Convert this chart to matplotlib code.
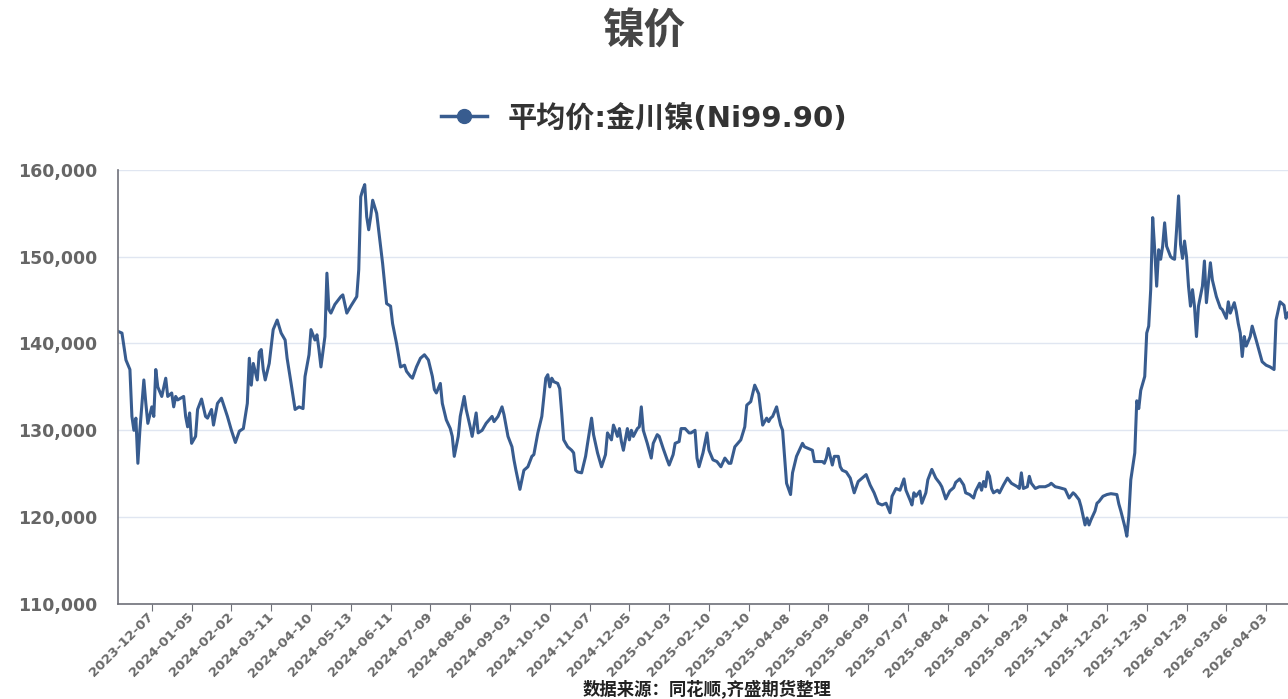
import matplotlib
matplotlib.use("Agg")
import matplotlib.pyplot as plt
from matplotlib.lines import Line2D
from matplotlib.ticker import FuncFormatter

plt.rcParams['font.family'] = ['DejaVu Sans', 'Noto Sans CJK SC']
CJK = ['Noto Sans CJK SC', 'DejaVu Sans']

# x-axis labels, one every 20 trading days
tick_dates = [
    "2023-12-07", "2024-01-05", "2024-02-02", "2024-03-11", "2024-04-10",
    "2024-05-13", "2024-06-11", "2024-07-09", "2024-08-06", "2024-09-03",
    "2024-10-10", "2024-11-07", "2024-12-05", "2025-01-03", "2025-02-10",
    "2025-03-10", "2025-04-08", "2025-05-09", "2025-06-09", "2025-07-07",
    "2025-08-04", "2025-09-01", "2025-09-29", "2025-11-04", "2025-12-02",
    "2025-12-30", "2026-01-29", "2026-03-06", "2026-04-03",
]
first_label_day = 17

# trading-day number and price (元/吨)
day = [
    0, 2, 4, 6, 7, 8, 9, 10, 11, 13, 14, 15, 17, 18, 19, 20, 22, 24, 25, 27,
    28, 29, 30, 33, 34, 35, 36, 37, 39, 40, 42, 44, 45, 47, 48, 50, 52, 55, 57, 59,
    61, 63, 65, 66, 67, 68, 70, 71, 72, 73, 74, 76, 78, 80, 82, 84, 85, 87, 89, 91,
    93, 94, 96, 97, 99, 100, 101, 102, 104, 105, 106, 107, 109, 112, 113, 115, 117, 120, 121, 122,
    123, 124, 125, 126, 127, 128, 130, 132, 133, 135, 137, 138, 140, 142, 144, 145, 147, 148, 150, 152,
    154, 156, 158, 159, 160, 162, 163, 165, 167, 168, 169, 171, 172, 174, 175, 177, 178, 180, 181, 183,
    185, 188, 189, 191, 193, 194, 196, 198, 199, 200, 202, 204, 206, 208, 209, 211, 213, 215, 216, 217,
    218, 219, 221, 222, 223, 224, 226, 228, 229, 230, 231, 233, 235, 236, 238, 239, 241, 243, 245, 246,
    248, 249, 250, 251, 252, 253, 254, 256, 257, 258, 259, 261, 262, 263, 264, 266, 268, 269, 271, 272,
    274, 276, 277, 279, 280, 282, 283, 285, 287, 288, 290, 291, 292, 294, 296, 297, 299, 301, 303, 305,
    307, 308, 310, 313, 315, 316, 318, 320, 322, 323, 324, 326, 327, 328, 329, 331, 332, 333, 334, 335,
    336, 338, 339, 341, 344, 345, 347, 349, 350, 352, 354, 355, 356, 357, 359, 360, 362, 363, 364, 366,
    368, 370, 372, 374, 376, 378, 380, 382, 384, 386, 388, 389, 391, 393, 395, 396, 398, 399, 400, 401,
    403, 404, 406, 407, 409, 411, 413, 414, 416, 418, 420, 421, 423, 425, 426, 428, 430, 431, 433, 434,
    435, 436, 437, 438, 439, 440, 442, 443, 445, 447, 449, 452, 453, 454, 455, 457, 458, 459, 461, 463,
    466, 468, 469, 471, 473, 476, 478, 480, 481, 483, 484, 486, 487, 488, 489, 491, 492, 493, 495, 497,
    499, 502, 503, 504, 506, 507, 508, 509, 511, 512, 513, 514, 516, 517, 518, 519, 520, 521, 522, 523,
    524, 525, 526, 527, 529, 530, 531, 532, 533, 534, 535, 536, 537, 538, 539, 540, 541, 542, 543, 545,
    546, 547, 549, 550, 552, 554, 555, 557, 558, 559, 561, 562, 563, 564, 565, 566, 567, 569, 570, 572,
    575, 577, 579, 581, 582, 584, 586, 587, 588,
]
price = [
    141400, 141200, 138100, 137000, 131600, 130000, 131400, 126200, 130000, 135800,
    133100, 130800, 132700, 131600, 137000, 135000, 133900, 136000, 133900, 134300,
    132700, 133900, 133500, 133900, 131600, 130400, 132000, 128500, 129300, 132400,
    133600, 131600, 131400, 132400, 130600, 133100, 133700, 131600, 130000, 128600,
    129900, 130200, 133100, 138300, 135200, 137700, 135800, 139000, 139300, 137000,
    135800, 137700, 141600, 142700, 141200, 140400, 138300, 135400, 132400, 132700,
    132500, 136200, 138700, 141600, 140400, 141000, 139300, 137300, 140800, 148100,
    143900, 143500, 144500, 145400, 145600, 143500, 144300, 145400, 148500, 156900,
    157700, 158300, 154600, 153100, 154600, 156500, 155000, 151200, 149200, 144600,
    144300, 142300, 140000, 137300, 137500, 136800, 136200, 136000, 137300, 138300,
    138700, 138100, 136200, 134700, 134300, 135400, 133100, 131200, 130200, 129300,
    127000, 129300, 131600, 133900, 132400, 130400, 129300, 132000, 129700, 130000,
    130800, 131600, 131000, 131600, 132700, 131800, 129300, 128100, 126600, 125400,
    123200, 125400, 125800, 127000, 127200, 129700, 131600, 136000, 136400, 135000,
    136000, 135600, 135400, 134800, 132000, 128900, 128100, 127700, 127400, 125400,
    125200, 125100, 127000, 128500, 131400, 129500, 127400, 125800, 127200, 129700,
    128900, 130600, 130000, 129300, 130200, 128700, 127700, 130200, 128900, 130000,
    129300, 130200, 130400, 132700, 130000, 128500, 126800, 128500, 129500, 129300,
    127900, 126600, 126000, 127200, 128500, 128700, 130200, 130200, 129700, 129700,
    130000, 126800, 125800, 127400, 129700, 127700, 126600, 126400, 125800, 126800,
    126200, 126200, 128100, 128900, 130400, 132900, 133300, 135200, 134200, 132300,
    130600, 131400, 131000, 131400, 131600, 132700, 131600, 130600, 130000, 127000,
    123900, 122600, 125100, 127000, 128500, 128100, 127900, 127700, 126400, 126400,
    126400, 126200, 126800, 127900, 126000, 127000, 127000, 125800, 125400, 125200,
    124500, 122800, 124100, 124500, 124900, 123700, 122800, 121600, 121400, 121600,
    120500, 122400, 123300, 123100, 124400, 123100, 122000, 121400, 122800, 122400,
    123000, 121600, 122800, 124300, 125500, 124500, 123900, 123500, 122100, 123000,
    123400, 124000, 124400, 123700, 122800, 122600, 122200, 123000, 123900, 123100,
    124100, 123500, 125200, 124700, 123300, 122800, 123100, 122800, 123700, 124500,
    123900, 123500, 123300, 125100, 123300, 123500, 124700, 123900, 123300, 123500,
    123500, 123700, 123900, 123500, 123400, 123200, 122200, 122800, 122600, 122000,
    121200, 119100, 119900, 119100, 119700, 120700, 121600, 121800, 122400, 122600,
    122700, 122600, 121500, 120700, 118900, 117800, 120100, 124300, 127400, 133400,
    132500, 134600, 136200, 141200, 142000, 146200, 154500, 150800, 146600, 150800,
    149700, 151200, 153900, 151200, 150000, 149800, 149700, 153100, 157000, 151400,
    149800, 151800, 150000, 146600, 144300, 146200, 144300, 140800, 144300, 146600,
    149500, 144700, 149300, 147300, 145400, 144100, 143900, 142900, 144800, 143500,
    144700, 143700, 142300, 141200, 138500, 140800, 139700, 140800, 142000, 140400,
    137900, 137500, 137300, 137000, 142700, 144800, 144400, 142900, 143500,
]

series_name = "平均价:金川镍(Ni99.90)"
line_color = "#385c8f"
axis_color = "#6e7079"

fig = plt.figure(figsize=(12.88, 6.99), dpi=100)
ax = fig.add_axes([0.0916, 0.136, 0.9084, 0.621])

ax.plot(day, price, color=line_color, lw=2.2, solid_joinstyle="round")

ax.set_xlim(0, 588)
ax.set_ylim(110000, 160000)
ax.set_yticks(range(110000, 160001, 10000))
ax.yaxis.set_major_formatter(FuncFormatter(lambda v, p: f"{int(v):,}"))
ax.set_xticks([first_label_day + 20 * i for i in range(len(tick_dates))])
ax.set_xticklabels(tick_dates, rotation=45, ha="right", va="center",
                   rotation_mode="anchor", fontsize=9.5, fontweight="bold",
                   color="#6a6a6a")

ax.grid(axis="y", color="#e0e6f1", lw=1)
ax.set_axisbelow(True)
for s in ("top", "right"):
    ax.spines[s].set_visible(False)
for s in ("left", "bottom"):
    ax.spines[s].set_color(axis_color)
    ax.spines[s].set_linewidth(1.2)
ax.tick_params(axis="y", length=0, pad=15, labelsize=12.5, labelcolor="#666666")
ax.tick_params(axis="x", length=5, color=axis_color, pad=3)
for t in ax.get_yticklabels():
    t.set_fontweight("bold")

fig.text(0.5, 1 - 32 / 699, "镍价", ha="center", va="center", family=CJK,
         fontsize=30, fontweight="bold", color="#464646")

handle = Line2D([], [], color=line_color, lw=2.5, marker="o", markersize=10)
fig.legend([handle], [series_name], loc="center",
           bbox_to_anchor=(0.5, 1 - 118 / 699), frameon=False,
           handlelength=1.6, handletextpad=0.7,
           prop={"size": 21, "weight": "bold"}, labelcolor="#333333")

fig.text(0.549, 1 - 689 / 699, "数据来源：同花顺,齐盛期货整理", ha="center",
         va="center", family=CJK, fontsize=12.5, fontweight="bold",
         color="#222222")

fig.savefig("out.png", dpi=100)
